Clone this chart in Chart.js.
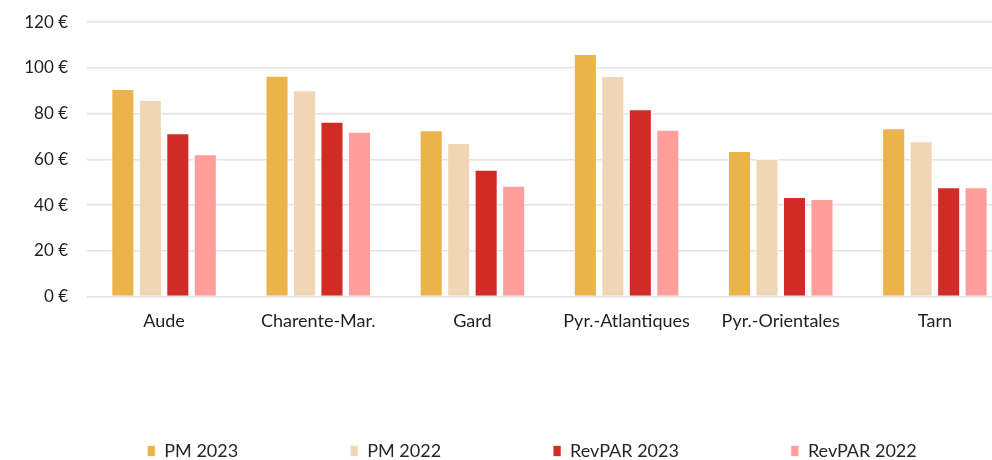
<!DOCTYPE html>
<html>
<head>
<meta charset="utf-8">
<script src="https://cdn.jsdelivr.net/npm/chart.js@4"></script>
<style>
  html, body { margin: 0; padding: 0; background: #fff; overflow: hidden; width: 992px; height: 460px; position: relative; }
  #wrap { position: absolute; left: 0; top: -7px; width: 1065px; height: 477px; }
</style>
</head>
<body>
<div id="wrap"><canvas id="c" width="1065" height="477"></canvas></div>
<script>
const categories = ['Aude', 'Charente-Mar.', 'Gard', 'Pyr.-Atlantiques', 'Pyr.-Orientales', 'Tarn'];
const pm2023 = [90.8, 96.6, 72.7, 106.1, 63.7, 73.6];
const pm2022 = [86.0, 90.2, 67.2, 96.5, 60.2, 67.9];
const revpar2023 = [71.4, 76.4, 55.4, 81.9, 43.5, 47.8];
const revpar2022 = [62.2, 72.1, 48.4, 72.9, 42.7, 47.8];
const seriesNames = ['PM 2023', 'PM 2022', 'RevPAR 2023', 'RevPAR 2022'];
const yTicks = [0, 20, 40, 60, 80, 100, 120];

const colors = ['#EAB44A', '#F1D6B5', '#D12B25', '#FF9E9B'];
const seriesData = [pm2023, pm2022, revpar2023, revpar2022];

const FONT = 'Lato, "Open Sans", sans-serif';

// shift the legend to sit where the reference puts it (visible area is cropped)
const legendShift = {
  id: 'legendShift',
  afterLayout(chart) {
    if (chart.legend) { chart.legend.left += 26; chart.legend.right += 26; }
  }
};

new Chart(document.getElementById('c'), {
  type: 'bar',
  data: {
    labels: categories,
    datasets: seriesNames.map((name, i) => ({
      label: name,
      data: seriesData[i],
      backgroundColor: colors[i],
      borderColor: 'rgba(255,255,255,0.7)',
      borderWidth: 1,
      categoryPercentage: 0.713,
      barPercentage: 0.84
    }))
  },
  plugins: [legendShift],
  options: {
    responsive: false,
    devicePixelRatio: 1,
    animation: false,
    layout: { padding: { left: 0, right: 53, top: 5, bottom: 0 } },
    plugins: {
      tooltip: { enabled: false },
      legend: {
        position: 'bottom',
        labels: {
          boxWidth: 8,
          boxHeight: 11,
          padding: 112,
          color: '#262626',
          font: { family: FONT, size: 18 }
        }
      }
    },
    scales: {
      x: {
        grid: { display: false, drawTicks: false },
        border: { display: false },
        ticks: { color: '#1f1f1f', font: { family: FONT, size: 18 }, padding: 14, maxRotation: 0, autoSkip: false },
        afterFit: (s) => { s.height = 33.5; }
      },
      y: {
        min: 0,
        max: 120,
        afterBuildTicks: (s) => { s.ticks = yTicks.map(v => ({ value: v })); },
        grid: { color: '#E3E3E3', lineWidth: 1.5, drawTicks: false },
        border: { display: false },
        ticks: {
          color: '#1f1f1f',
          font: { family: FONT, size: 17 },
          padding: 19,
          callback: (v) => v + ' €'
        },
        afterFit: (s) => { s.width = 87; }
      }
    }
  }
});
</script>
</body>
</html>
